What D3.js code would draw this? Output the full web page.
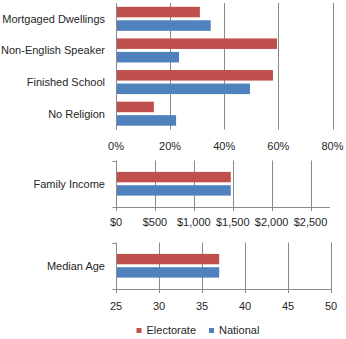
<!DOCTYPE html>
<html>
<head>
<meta charset="utf-8">
<script src="https://cdn.jsdelivr.net/npm/d3@7"></script>
<style>
  html, body { margin: 0; padding: 0; background: #fff; }
  svg { display: block; font-family: "Liberation Sans", Arial, sans-serif; }
</style>
</head>
<body>
<svg id="chart" width="346" height="339"></svg>
<script>
// Demographic profile: electorate vs national figures
const seriesNames = ["Electorate", "National"];
const seriesColors = ["#C0504D", "#4F81BD"];

const pctCategories = ["Mortgaged Dwellings", "Non-English Speaker", "Finished School", "No Religion"];
const pctElectorate = [31, 59.5, 58, 14];
const pctNational = [35, 23.3, 49.5, 22.2];
const pctTicks = [0, 20, 40, 60, 80];

const incomeCategories = ["Family Income"];
const incomeElectorate = [1475];
const incomeNational = [1475];
const incomeTicks = [0, 500, 1000, 1500, 2000, 2500];

const ageCategories = ["Median Age"];
const ageElectorate = [37];
const ageNational = [37];
const ageTicks = [25, 30, 35, 40, 45, 50];

const svg = d3.select("#chart");
const gridColor = "#8a8a8a";
const textColor = "#262626";
const fontSize = 11;

function panel(opts) {
  const { categories, values, domain, ticks, fmt, xRange, yRange, padding, axisLine, labelY } = opts;
  const g = svg.append("g");
  const x = d3.scaleLinear().domain(domain).range(xRange);
  const y = d3.scaleBand().domain(categories).range(yRange)
    .paddingInner(padding).paddingOuter(padding / 2);
  const ys = d3.scaleBand().domain(seriesNames).range([0, y.bandwidth()]).paddingInner(0.22);

  // vertical gridlines
  const gridTicks = axisLine ? ticks.filter(t => t !== domain[0]) : ticks;
  g.selectAll("line.grid").data(gridTicks).join("line")
    .attr("class", "grid")
    .attr("x1", d => Math.round(x(d)) + 0.5).attr("x2", d => Math.round(x(d)) + 0.5)
    .attr("y1", yRange[0]).attr("y2", yRange[1] + (axisLine ? 4 : 0))
    .attr("stroke", gridColor).attr("stroke-width", 1);

  // bars
  const rows = categories.map((c, i) => ({ c, vals: values.map(v => v[i]) }));
  g.selectAll("g.row").data(rows).join("g")
    .attr("transform", d => `translate(0,${y(d.c)})`)
    .selectAll("rect").data(d => d.vals.map((v, k) => ({ v, k })))
    .join("rect")
    .attr("x", x(domain[0]) + 1)
    .attr("y", d => ys(seriesNames[d.k]))
    .attr("width", d => x(d.v) - x(domain[0]) - 1)
    .attr("height", ys.bandwidth())
    .attr("fill", d => seriesColors[d.k]);

  // category axis line
  const x0 = Math.round(x(domain[0])) + 0.5;
  g.append("line")
    .attr("x1", x0).attr("x2", x0)
    .attr("y1", yRange[0]).attr("y2", yRange[1] + (axisLine ? 4 : 0))
    .attr("stroke", gridColor);

  if (axisLine) {
    const yb = Math.round(yRange[1]) + 0.5;
    g.append("line")
      .attr("x1", x0 - 4).attr("x2", xRange[1])
      .attr("y1", yb).attr("y2", yb)
      .attr("stroke", gridColor);
    g.append("line")
      .attr("x1", x0 - 4).attr("x2", x0)
      .attr("y1", Math.round(yRange[0]) + 0.5).attr("y2", Math.round(yRange[0]) + 0.5)
      .attr("stroke", gridColor);
  }

  // value tick labels
  g.selectAll("text.tick").data(ticks).join("text")
    .attr("x", d => x(d)).attr("y", labelY)
    .attr("text-anchor", "middle")
    .attr("font-size", fontSize).attr("fill", textColor)
    .text(fmt);

  // category labels
  g.selectAll("text.cat").data(categories).join("text")
    .attr("x", xRange[0] - 11)
    .attr("y", d => y(d) + y.bandwidth() / 2)
    .attr("dy", "0.35em")
    .attr("text-anchor", "end")
    .attr("font-size", fontSize).attr("fill", textColor)
    .text(d => d);
}

panel({
  categories: pctCategories,
  values: [pctElectorate, pctNational],
  domain: [0, 80], ticks: pctTicks, fmt: d => d + "%",
  xRange: [116, 332.5], yRange: [3, 129.5], padding: 0.24,
  axisLine: false, labelY: 149.5
});

panel({
  categories: incomeCategories,
  values: [incomeElectorate, incomeNational],
  domain: [0, 2750], ticks: incomeTicks, fmt: d => "$" + d3.format(",")(d),
  xRange: [116, 330], yRange: [160.5, 207], padding: 0.49,
  axisLine: true, labelY: 226
});

panel({
  categories: ageCategories,
  values: [ageElectorate, ageNational],
  domain: [25, 50], ticks: ageTicks, fmt: d => d,
  xRange: [116, 331], yRange: [242.5, 289], padding: 0.49,
  axisLine: true, labelY: 310
});

// legend
const legendX = [136.5, 209];
const legend = svg.append("g").selectAll("g").data(seriesNames).join("g")
  .attr("transform", (d, i) => `translate(${legendX[i]},328)`);
legend.append("rect").attr("width", 5).attr("height", 5)
  .attr("fill", (d, i) => seriesColors[i]);
legend.append("text").attr("x", 10).attr("y", 2.5).attr("dy", "0.35em")
  .attr("font-size", fontSize).attr("fill", textColor).text(d => d);
</script>
</body>
</html>
